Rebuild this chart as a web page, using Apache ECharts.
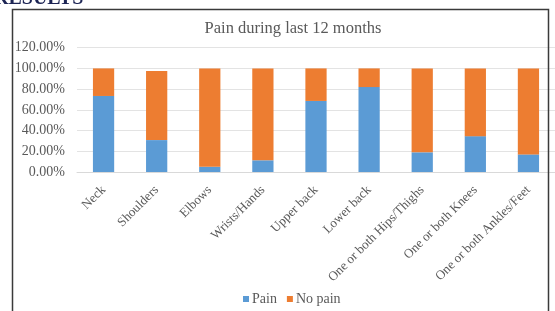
<html>
<head>
<meta charset="utf-8" />
<title>Pain during last 12 months</title>
<script src="https://cdn.jsdelivr.net/npm/echarts@6/dist/echarts.min.js"></script>
<style type="text/css">
body { margin: 0; background: #fff; }
#main { width: 555px; height: 311px; }
</style>
</head>
<body>
<div id="main"></div>
<script type="text/javascript">
var categories = ["Neck", "Shoulders", "Elbows", "Wrists/Hands", "Upper back", "Lower back",
	"One or both Hips/Thighs", "One or both Knees", "One or both Ankles/Feet"];
var pain = [73.4, 30.8, 5.1, 11.3, 68.6, 82.0, 19.0, 34.6, 17.0];
var noPain = [26.6, 66.6, 94.9, 88.7, 31.4, 18.0, 81.0, 65.4, 83.0];
var yTicks = [0, 20, 40, 60, 80, 100, 120];

var myChart = echarts.init(document.getElementById("main"));
var serif = "Liberation Serif";
var grey = "#595959";

var option = {
	backgroundColor: "#fff",
	animation: false,
	title: {
		text: "Pain during last 12 months",
		left: 288,
		top: 15,
		textAlign: "center",
		textStyle: { fontFamily: serif, fontSize: 16.5, fontWeight: "normal", color: grey }
	},
	legend: {
		bottom: 0,
		left: 238,
		itemWidth: 6,
		itemHeight: 6,
		itemGap: 10,
		icon: "rect",
		textStyle: { fontFamily: serif, fontSize: 14, color: grey, padding: [0, 0, 0, -2] },
		data: ["Pain", "No pain"]
	},
	grid: { left: 77, right: 0, top: 47.7, bottom: 139 },
	xAxis: {
		type: "category",
		data: categories,
		axisLine: { lineStyle: { color: "#d9d9d9" } },
		axisTick: { show: false },
		axisLabel: { rotate: 45, fontFamily: serif, fontSize: 13, color: grey, margin: 16, interval: 0 }
	},
	yAxis: {
		type: "value",
		min: yTicks[0],
		max: yTicks[yTicks.length - 1],
		interval: 20,
		axisLine: { show: false },
		axisTick: { show: false },
		splitLine: { lineStyle: { color: "#e3e3e3" } },
		axisLabel: {
			fontFamily: serif, fontSize: 14, color: grey, margin: 12,
			formatter: function (v) { return v.toFixed(2) + "%"; }
		}
	},
	series: [
		{ name: "Pain", type: "bar", stack: "all", barWidth: "40%", data: pain, itemStyle: { color: "#5B9BD5" } },
		{ name: "No pain", type: "bar", stack: "all", barWidth: "40%", data: noPain, itemStyle: { color: "#ED7D31" } }
	],
	graphic: [
		{ type: "rect", shape: { x: 12.5, y: 9.5, width: 536, height: 320 }, style: { fill: null, stroke: "#3a3a3a", lineWidth: 1.5 }, z: 100 },
		{ type: "text", left: -6, top: -11, style: { text: "RESULTS", font: "bold 20px Liberation Serif", fill: "#1c2454" }, z: 100 }
	]
};

myChart.setOption(option);
</script>
</body>
</html>
